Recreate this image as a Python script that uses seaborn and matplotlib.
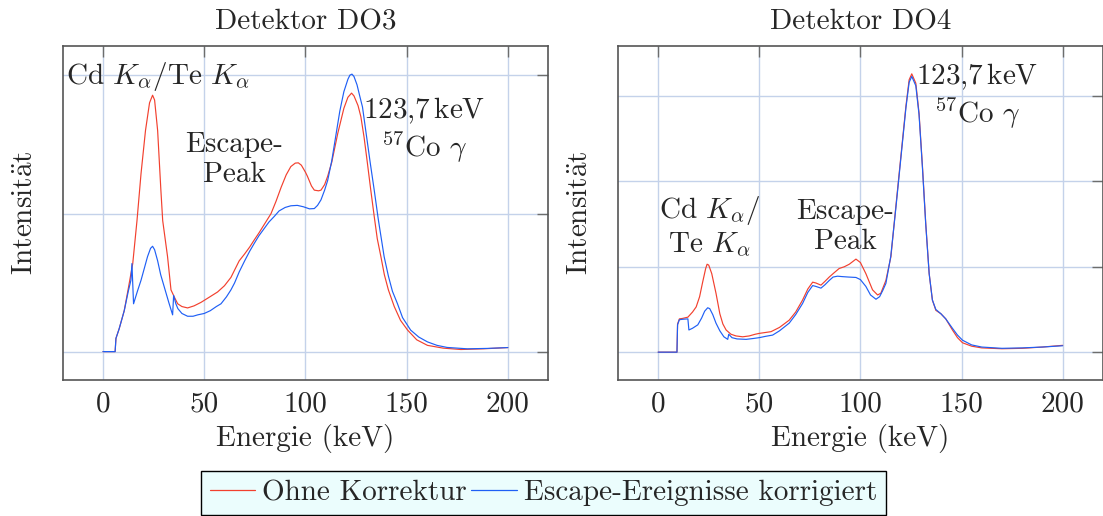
import numpy as np
import pandas as pd
import matplotlib
matplotlib.use("Agg")
import matplotlib.pyplot as plt
from matplotlib.lines import Line2D
import seaborn as sns

# ---------------- data ----------------
series_names = ["Ohne Korrektur", "Escape-Ereignisse korrigiert"]
series_colors = ["#f2402e", "#1f5ff5"]
detectors = ["Detektor DO3", "Detektor DO4"]
x_ticks = [0, 50, 100, 150, 200]

do3_red_e = [0, 6, 6.4, 8, 10.5, 12.5, 14.7, 16.8, 18.8, 21, 23, 24.5, 25.5, 27, 28.6,
             29.5, 31.9, 33.6, 35.2, 36.9, 39, 41.8, 45, 48.4, 51.7, 56.6, 60, 63.2,
             67.3, 70, 72.5, 74.7, 77, 80, 83, 85.5, 88, 90.5, 92.8, 95, 96.5, 98, 100,
             101, 103, 104.4, 106.5, 107.7, 109.5, 111, 113, 114, 116, 118, 119, 121,
             122.8, 124, 126, 127.4, 129, 130.5, 132.3, 134, 135.5, 137.3, 139, 141,
             143.9, 147, 150.5, 155, 160.3, 168, 176.8, 188, 200]
do3_red_i = [0.005, 0.005, 0.1, 0.17, 0.30, 0.46, 0.64, 0.95, 1.29, 1.6, 1.8, 1.855, 1.82,
             1.6, 1.17, 0.95, 0.69, 0.45, 0.40, 0.35, 0.33, 0.32, 0.335, 0.36, 0.39,
             0.435, 0.48, 0.54, 0.66, 0.71, 0.76, 0.81, 0.86, 0.93, 1.0, 1.09, 1.19,
             1.28, 1.34, 1.365, 1.367, 1.35, 1.30, 1.27, 1.2, 1.17, 1.165, 1.17, 1.21,
             1.27, 1.37, 1.44, 1.58, 1.70, 1.76, 1.84, 1.87, 1.85, 1.78, 1.70, 1.55,
             1.38, 1.17, 0.98, 0.82, 0.69, 0.56, 0.45, 0.33, 0.23, 0.16, 0.09, 0.05,
             0.03, 0.02, 0.025, 0.034]

do3_blue_e = [0, 6, 6.4, 8, 10.5, 12.5, 13.8, 14.3, 15.1, 17, 18.8, 20.5, 22, 23.5, 24.5,
              25.5, 27, 28.5, 30.3, 32.5, 34.4, 34.9, 36, 37, 39, 41.8, 44.5, 46.8, 50,
              53, 56, 58.3, 61, 63.2, 65, 67.3, 70, 72.5, 74.7, 77, 80, 82, 84.6, 87,
              90, 92.8, 96, 99, 102, 104.4, 106, 107.7, 109.5, 111, 113, 115, 117, 119,
              121, 122, 123, 124, 125.5, 127, 128.2, 130, 132, 134, 136, 138.9, 141,
              143, 145.5, 148, 152, 156, 160.3, 165, 170, 180, 190, 200]
do3_blue_i = [0.005, 0.005, 0.1, 0.17, 0.30, 0.44, 0.52, 0.64, 0.35, 0.44, 0.52, 0.61,
              0.69, 0.75, 0.765, 0.74, 0.66, 0.56, 0.47, 0.36, 0.27, 0.41, 0.35, 0.315,
              0.28, 0.26, 0.26, 0.27, 0.28, 0.30, 0.33, 0.35, 0.40, 0.45, 0.50, 0.58,
              0.66, 0.73, 0.785, 0.84, 0.90, 0.94, 0.98, 1.02, 1.045, 1.057, 1.06, 1.05,
              1.035, 1.037, 1.06, 1.10, 1.17, 1.24, 1.38, 1.56, 1.74, 1.88, 1.97, 2.0,
              2.007, 1.99, 1.93, 1.84, 1.77, 1.58, 1.37, 1.17, 0.96, 0.69, 0.55, 0.44,
              0.35, 0.25, 0.16, 0.11, 0.075, 0.05, 0.035, 0.025, 0.028, 0.034]

do4_red_e = [0, 9.3, 9.6, 10.5, 12, 14.7, 17, 18.8, 20.5, 22, 23.5, 24.2, 25, 26.5, 28.6,
             30.5, 32, 33.6, 36, 38.5, 41.8, 45, 48, 50, 55.8, 60, 64.8, 68, 71.4, 74,
             76.4, 78, 80.5, 82.5, 84.6, 87, 89.5, 92, 94.5, 97.8, 100, 102.7, 106,
             108.5, 110.1, 112.6, 115.1, 117.5, 120, 122.5, 124.1, 125.4, 127.4, 129,
             130.7, 132.3, 134, 135.6, 137.3, 139.8, 142.2, 145.5, 148, 150.5, 155, 160,
             170, 180, 190, 200]
do4_red_i = [0.0, 0.0, 0.33, 0.39, 0.395, 0.41, 0.47, 0.53, 0.65, 0.82, 0.98, 1.03, 1.02,
             0.92, 0.69, 0.45, 0.33, 0.26, 0.21, 0.19, 0.18, 0.19, 0.21, 0.22, 0.24,
             0.29, 0.375, 0.47, 0.61, 0.74, 0.82, 0.81, 0.785, 0.83, 0.88, 0.93, 0.98,
             1.0, 1.03, 1.09, 1.05, 0.92, 0.73, 0.67, 0.69, 0.84, 1.12, 1.70, 2.29,
             2.88, 3.19, 3.26, 3.15, 2.80, 2.17, 1.51, 0.92, 0.61, 0.49, 0.45, 0.39,
             0.26, 0.17, 0.11, 0.07, 0.05, 0.04, 0.045, 0.06, 0.08]

do4_blue_e = [0, 9.3, 9.6, 10.5, 12, 14.7, 15.2, 17, 19.6, 21.5, 23, 24.5, 25.5, 27, 28.6,
              30.5, 32.5, 34.4, 34.9, 36.5, 39, 43.5, 47, 50, 53, 56.6, 60, 64.8, 68,
              71.4, 74, 76.4, 78, 80.5, 82.5, 84.6, 86.5, 88.7, 91, 94, 97.8, 100, 102.7,
              105, 107.7, 109.5, 111, 112.6, 115, 117.5, 120, 122.5, 124.1, 125.4, 127.4,
              129, 130.7, 132.3, 134, 135.6, 137.3, 139.8, 142.2, 145.5, 148, 150.5, 155,
              160, 170, 180, 190, 200]
do4_blue_i = [0.0, 0.0, 0.32, 0.38, 0.385, 0.39, 0.26, 0.28, 0.32, 0.40, 0.48, 0.52, 0.51,
              0.44, 0.34, 0.25, 0.18, 0.15, 0.21, 0.17, 0.155, 0.15, 0.16, 0.17, 0.185,
              0.20, 0.25, 0.34, 0.44, 0.57, 0.70, 0.78, 0.77, 0.75, 0.79, 0.84, 0.88,
              0.89, 0.885, 0.88, 0.875, 0.85, 0.77, 0.67, 0.62, 0.65, 0.72, 0.805, 1.12,
              1.68, 2.27, 2.86, 3.16, 3.23, 3.12, 2.78, 2.15, 1.50, 0.92, 0.61, 0.50,
              0.45, 0.39, 0.28, 0.20, 0.14, 0.085, 0.06, 0.045, 0.05, 0.06, 0.075]

y_ticks_do3 = [0, 1, 2]
y_ticks_do4 = [0, 1, 2, 3]

# ---------------- style ----------------
sns.set_theme(style="white")
plt.rcParams["font.family"] = ["cmr10", "DejaVu Serif"]
plt.rcParams["mathtext.fontset"] = "cm"
plt.rcParams["axes.unicode_minus"] = False
plt.rcParams["axes.formatter.use_mathtext"] = True

FS = 21
GRID = "#c4d2ea"
FRAME = "#555555"


def make_df(red_e, red_i, blue_e, blue_i):
    a = pd.DataFrame({"E": red_e, "I": red_i, "s": series_names[0]})
    b = pd.DataFrame({"E": blue_e, "I": blue_i, "s": series_names[1]})
    return pd.concat([a, b], ignore_index=True)


dfs = [make_df(do3_red_e, do3_red_i, do3_blue_e, do3_blue_i),
       make_df(do4_red_e, do4_red_i, do4_blue_e, do4_blue_i)]

fig = plt.figure(figsize=(11.03, 5.16), dpi=100)
axes = [fig.add_axes([62.5 / 1103, 136 / 516, 485.8 / 1103, 334 / 516]),
        fig.add_axes([617.7 / 1103, 136 / 516, 485.4 / 1103, 334 / 516])]

ylims = [(-0.2, 2.21), (-0.326, 3.586)]
yticks = [y_ticks_do3, y_ticks_do4]

for ax, df, title, yl, yt in zip(axes, dfs, detectors, ylims, yticks):
    sns.lineplot(data=df, x="E", y="I", hue="s", palette=series_colors,
                 hue_order=series_names, estimator=None, sort=False,
                 linewidth=0.85, legend=False, ax=ax)
    ax.set_xlim(-20, 220)
    ax.set_ylim(*yl)
    ax.set_xticks(x_ticks)
    ax.set_xticklabels([str(v) for v in x_ticks], fontsize=FS)
    ax.set_yticks(yt)
    ax.set_yticklabels([])
    ax.grid(True, color=GRID, linewidth=1.0)
    ax.set_axisbelow(True)
    ax.tick_params(direction="in", top=True, right=True, length=8, width=1.0,
                   color="#6d6d6d", pad=8)
    for sp in ax.spines.values():
        sp.set_color(FRAME)
        sp.set_linewidth(1.2)
    ax.set_title(title, fontsize=FS, pad=12)
    ax.set_xlabel("Energie (keV)", fontsize=FS, labelpad=5)
    ax.set_ylabel(r"Intensit$\ddot{\mathrm{a}}$t", fontsize=FS, labelpad=9)

# annotations
ax0, ax1 = axes
ax0.text(27.4, 1.99, r"Cd $K_\alpha$/Te $K_\alpha$", fontsize=FS, ha="center", va="center")
ax0.text(64.8, 1.39, "Escape-\nPeak", fontsize=FS, ha="center", va="center",
         multialignment="center", linespacing=1.15)
ax0.text(158.8, 1.60, "123,7$\\,$keV\n$^{57}$Co $\\gamma$", fontsize=FS, ha="center",
         va="center", multialignment="center", linespacing=1.15)

ax1.text(25.3, 1.47, "Cd $K_\\alpha$/\nTe $K_\\alpha$", fontsize=FS, ha="center",
         va="center", multialignment="center", linespacing=1.15)
ax1.text(92.5, 1.47, "Escape-\nPeak", fontsize=FS, ha="center", va="center",
         multialignment="center", linespacing=1.15)
ax1.text(157.9, 3.0, "123,7$\\,$keV\n$^{57}$Co $\\gamma$", fontsize=FS, ha="center",
         va="center", multialignment="center", linespacing=1.15)

handles = [Line2D([0], [0], color=c, lw=0.9) for c in series_colors]
leg = fig.legend(handles, series_names, loc="lower center",
                 bbox_to_anchor=(543.5 / 1103, 1 / 516), ncol=2, fontsize=FS,
                 frameon=True, fancybox=False, edgecolor="black",
                 facecolor="#ebfdfd", framealpha=1.0, handlelength=1.55,
                 handletextpad=0.25, columnspacing=0.15, borderpad=0.3,
                 borderaxespad=0.0)
leg.get_frame().set_linewidth(1.0)

fig.savefig("out.png", dpi=100)
